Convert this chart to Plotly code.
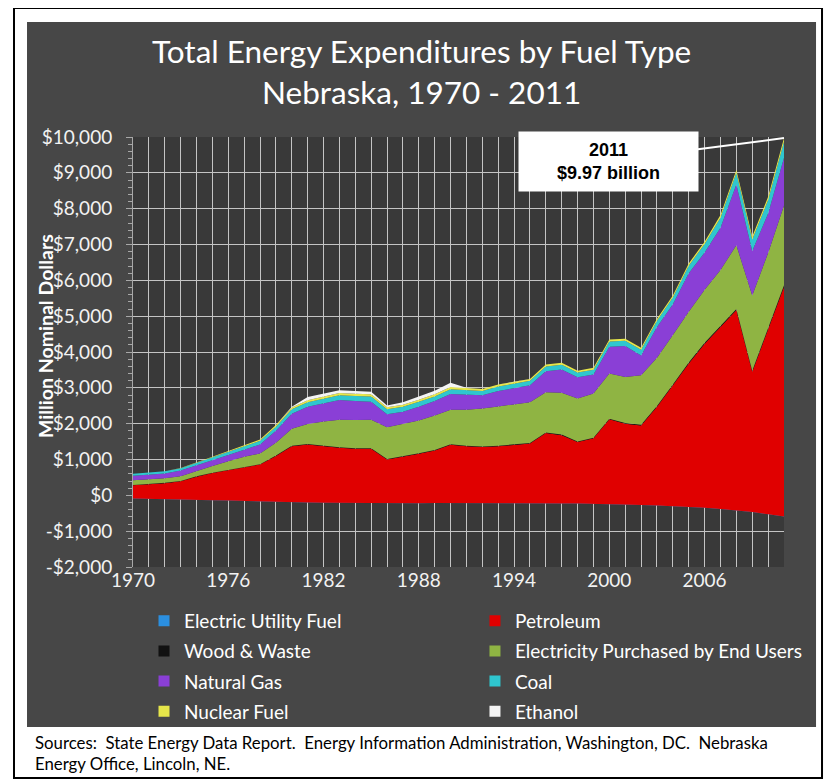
import plotly.graph_objects as go

years = list(range(1970, 2012))

electric_utility_fuel = [-90, -95, -100, -110, -125, -135, -145, -160, -170, -180,
                         -190, -200, -205, -210, -215, -220, -220, -220, -220, -215,
                         -215, -210, -205, -205, -205, -210, -220, -225, -230, -235,
                         -250, -260, -270, -285, -300, -320, -345, -380, -420, -465,
                         -530, -590]
petroleum = [370, 395, 440, 500, 645, 755, 845, 940, 1030, 1280,
             1560, 1620, 1575, 1540, 1515, 1520, 1220, 1290, 1380, 1465,
             1625, 1580, 1555, 1575, 1605, 1655, 1960, 1905, 1720, 1825,
             2370, 2260, 2220, 2755, 3370, 4000, 4575, 5080, 5590, 3915,
             5140, 6410]
wood_waste = [10, 10, 10, 10, 10, 10, 10, 10, 10, 15,
              15, 15, 15, 15, 15, 15, 15, 15, 15, 15,
              15, 15, 15, 15, 15, 15, 15, 15, 15, 15,
              20, 20, 20, 20, 25, 25, 25, 30, 30, 30,
              35, 40]
electricity_purchased = [130, 130, 125, 130, 150, 190, 240, 290, 300, 355,
                         475, 555, 675, 765, 785, 795, 885, 915, 915, 965,
                         965, 1005, 1055, 1095, 1125, 1140, 1125, 1165, 1195, 1235,
                         1260, 1280, 1380, 1350, 1380, 1420, 1480, 1560, 1780, 2100,
                         2120, 2230]
natural_gas = [130, 130, 135, 165, 165, 165, 175, 190, 250, 335,
               420, 480, 505, 550, 535, 505, 360, 335, 385, 400,
               440, 425, 370, 430, 440, 470, 585, 655, 595, 530,
               750, 865, 555, 860, 855, 1075, 1040, 1180, 1695, 1240,
               1100, 1330]
coal = [50, 55, 60, 60, 65, 70, 80, 90, 100, 110,
        120, 130, 135, 135, 140, 140, 140, 135, 135, 130,
        130, 130, 125, 125, 125, 125, 130, 130, 130, 135,
        145, 150, 160, 170, 190, 210, 240, 280, 330, 320,
        380, 450]
nuclear_fuel = [0, 0, 0, 10, 20, 25, 30, 35, 40, 45,
                50, 55, 60, 60, 60, 65, 60, 60, 60, 60,
                60, 55, 55, 55, 55, 55, 55, 55, 55, 55,
                55, 55, 55, 60, 60, 60, 65, 70, 75, 80,
                85, 100]
ethanol = [0, 0, 0, 0, 0, 0, 0, 0, 0, 0,
           20, 90, 90, 80, 80, 70, 50, 70, 90, 100,
           120, 0, 0, 0, 0, 0, 0, 0, 0, 0,
           0, 0, 0, 0, 0, 0, 0, 0, 0, 0,
           0, 0]

x_tick_years = [1970, 1976, 1982, 1988, 1994, 2000, 2006]
y_tick_vals = [-2000, -1000, 0, 1000, 2000, 3000, 4000, 5000, 6000, 7000, 8000, 9000, 10000]
y_tick_text = ["-$2,000", "-$1,000", "$0", "$1,000", "$2,000", "$3,000", "$4,000",
               "$5,000", "$6,000", "$7,000", "$8,000", "$9,000", "$10,000"]

series = [
    ("Electric Utility Fuel", electric_utility_fuel, "#2b8fe0", "legend"),
    ("Petroleum", petroleum, "#e00000", "legend2"),
    ("Wood & Waste", wood_waste, "#111111", "legend"),
    ("Electricity Purchased by End Users", electricity_purchased, "#8fb443", "legend2"),
    ("Natural Gas", natural_gas, "#8a3fd6", "legend"),
    ("Coal", coal, "#2fc6cf", "legend2"),
    ("Nuclear Fuel", nuclear_fuel, "#e6e64a", "legend"),
    ("Ethanol", ethanol, "#f4f4f4", "legend2"),
]

FONT = "Lato"
fig = go.Figure()
for name, vals, color, _ in series:
    fig.add_trace(go.Scatter(
        x=years, y=vals, name=name, mode="lines", stackgroup="one",
        line=dict(width=0, color=color), fillcolor=color, showlegend=False,
        hoverinfo="x+y+name"))

for name, vals, color, lg in series:
    fig.add_trace(go.Scatter(
        x=[None], y=[None], name=name, mode="markers",
        marker=dict(symbol="square", size=11, color=color, line=dict(width=0)),
        legend=lg, legendgroup=name, showlegend=True))

grid = "#c4c4c4"
legend_common = dict(xanchor="left", yanchor="top", orientation="v",
                     traceorder="grouped", tracegroupgap=2.5,
                     bgcolor="rgba(0,0,0,0)",
                     font=dict(family=FONT, size=19, color="white"))
fig.update_layout(
    width=828, height=775, autosize=False,
    margin=dict(l=125, r=52, t=129, b=216),
    paper_bgcolor="white", plot_bgcolor="rgba(0,0,0,0)",
    font=dict(family=FONT, color="white", size=16),
    showlegend=True,
    legend=dict(x=0.0169, y=-0.081, **legend_common),
    legend2=dict(x=0.5253, y=-0.081, **legend_common),
    xaxis=dict(range=[1970, 2011], tickmode="array", tickvals=x_tick_years,
               showgrid=True, gridcolor=grid, gridwidth=1, zeroline=False,
               tickfont=dict(family=FONT, size=19, color="#f2f2f2"),
               ticks="", showline=False,
               minor=dict(dtick=1, tick0=1970, showgrid=True, gridcolor=grid, gridwidth=1)),
    yaxis=dict(range=[-2000, 10000], tickmode="array", tickvals=y_tick_vals,
               ticktext=y_tick_text, showgrid=True, gridcolor=grid, gridwidth=1,
               zeroline=False, tickfont=dict(family=FONT, size=19, color="#f2f2f2"),
               ticks="outside", ticklen=6, tickcolor="#a8a8a8", ticklabelstandoff=10,
               showline=True, linecolor="#a8a8a8", linewidth=1,
               minor=dict(dtick=200, tick0=0, ticks="outside", ticklen=4,
                          tickcolor="#a8a8a8", showgrid=False)),
    shapes=[
        dict(type="rect", xref="paper", yref="paper", x0=-0.1828, x1=1.0584,
             y0=-0.4907, y1=1.30, line=dict(color="black", width=2),
             fillcolor="white", layer="below"),
        dict(type="rect", xref="paper", yref="paper", x0=-0.1628, x1=1.0492,
             y0=-0.3721, y1=1.2674, line=dict(width=0), fillcolor="#474747",
             layer="below"),
        dict(type="rect", xref="paper", yref="paper", x0=0, x1=1, y0=0, y1=1,
             line=dict(width=0), fillcolor="#393939", layer="below"),
    ],
    annotations=[
        dict(text="Total Energy Expenditures by Fuel Type", xref="paper", yref="paper",
             x=0.4424, y=1.2, xanchor="center", yanchor="middle", showarrow=False,
             font=dict(family=FONT, size=31.5, color="white")),
        dict(text="Nebraska, 1970 - 2011", xref="paper", yref="paper",
             x=0.4424, y=1.1047, xanchor="center", yanchor="middle", showarrow=False,
             font=dict(family=FONT, size=31.5, color="white")),
        dict(text="<b>Million Nominal Dollars</b>", xref="paper", yref="paper",
             x=-0.1352, y=0.537, textangle=-90, xanchor="center", yanchor="middle",
             showarrow=False, font=dict(family=FONT, size=19.5, color="white")),
        dict(text="<b>2011</b><br><b>$9.97 billion</b>", x=2011, y=9970, xref="x", yref="y",
             ax=-176, ay=23, showarrow=True, arrowhead=0, arrowwidth=2, arrowcolor="white",
             standoff=0, bgcolor="white", width=175, height=55, borderpad=2,
             font=dict(family="Liberation Sans", size=18, color="black")),
        dict(text="Sources:  State Energy Data Report.  Energy Information Administration, Washington, DC.  Nebraska",
             xref="paper", yref="paper", x=-0.1536, y=-0.4093, xanchor="left", yanchor="middle",
             showarrow=False, font=dict(family=FONT, size=16.8, color="black")),
        dict(text="Energy Office, Lincoln, NE.",
             xref="paper", yref="paper", x=-0.1536, y=-0.4581, xanchor="left", yanchor="middle",
             showarrow=False, font=dict(family=FONT, size=16.8, color="black")),
    ],
)

fig.write_html("out.html")
